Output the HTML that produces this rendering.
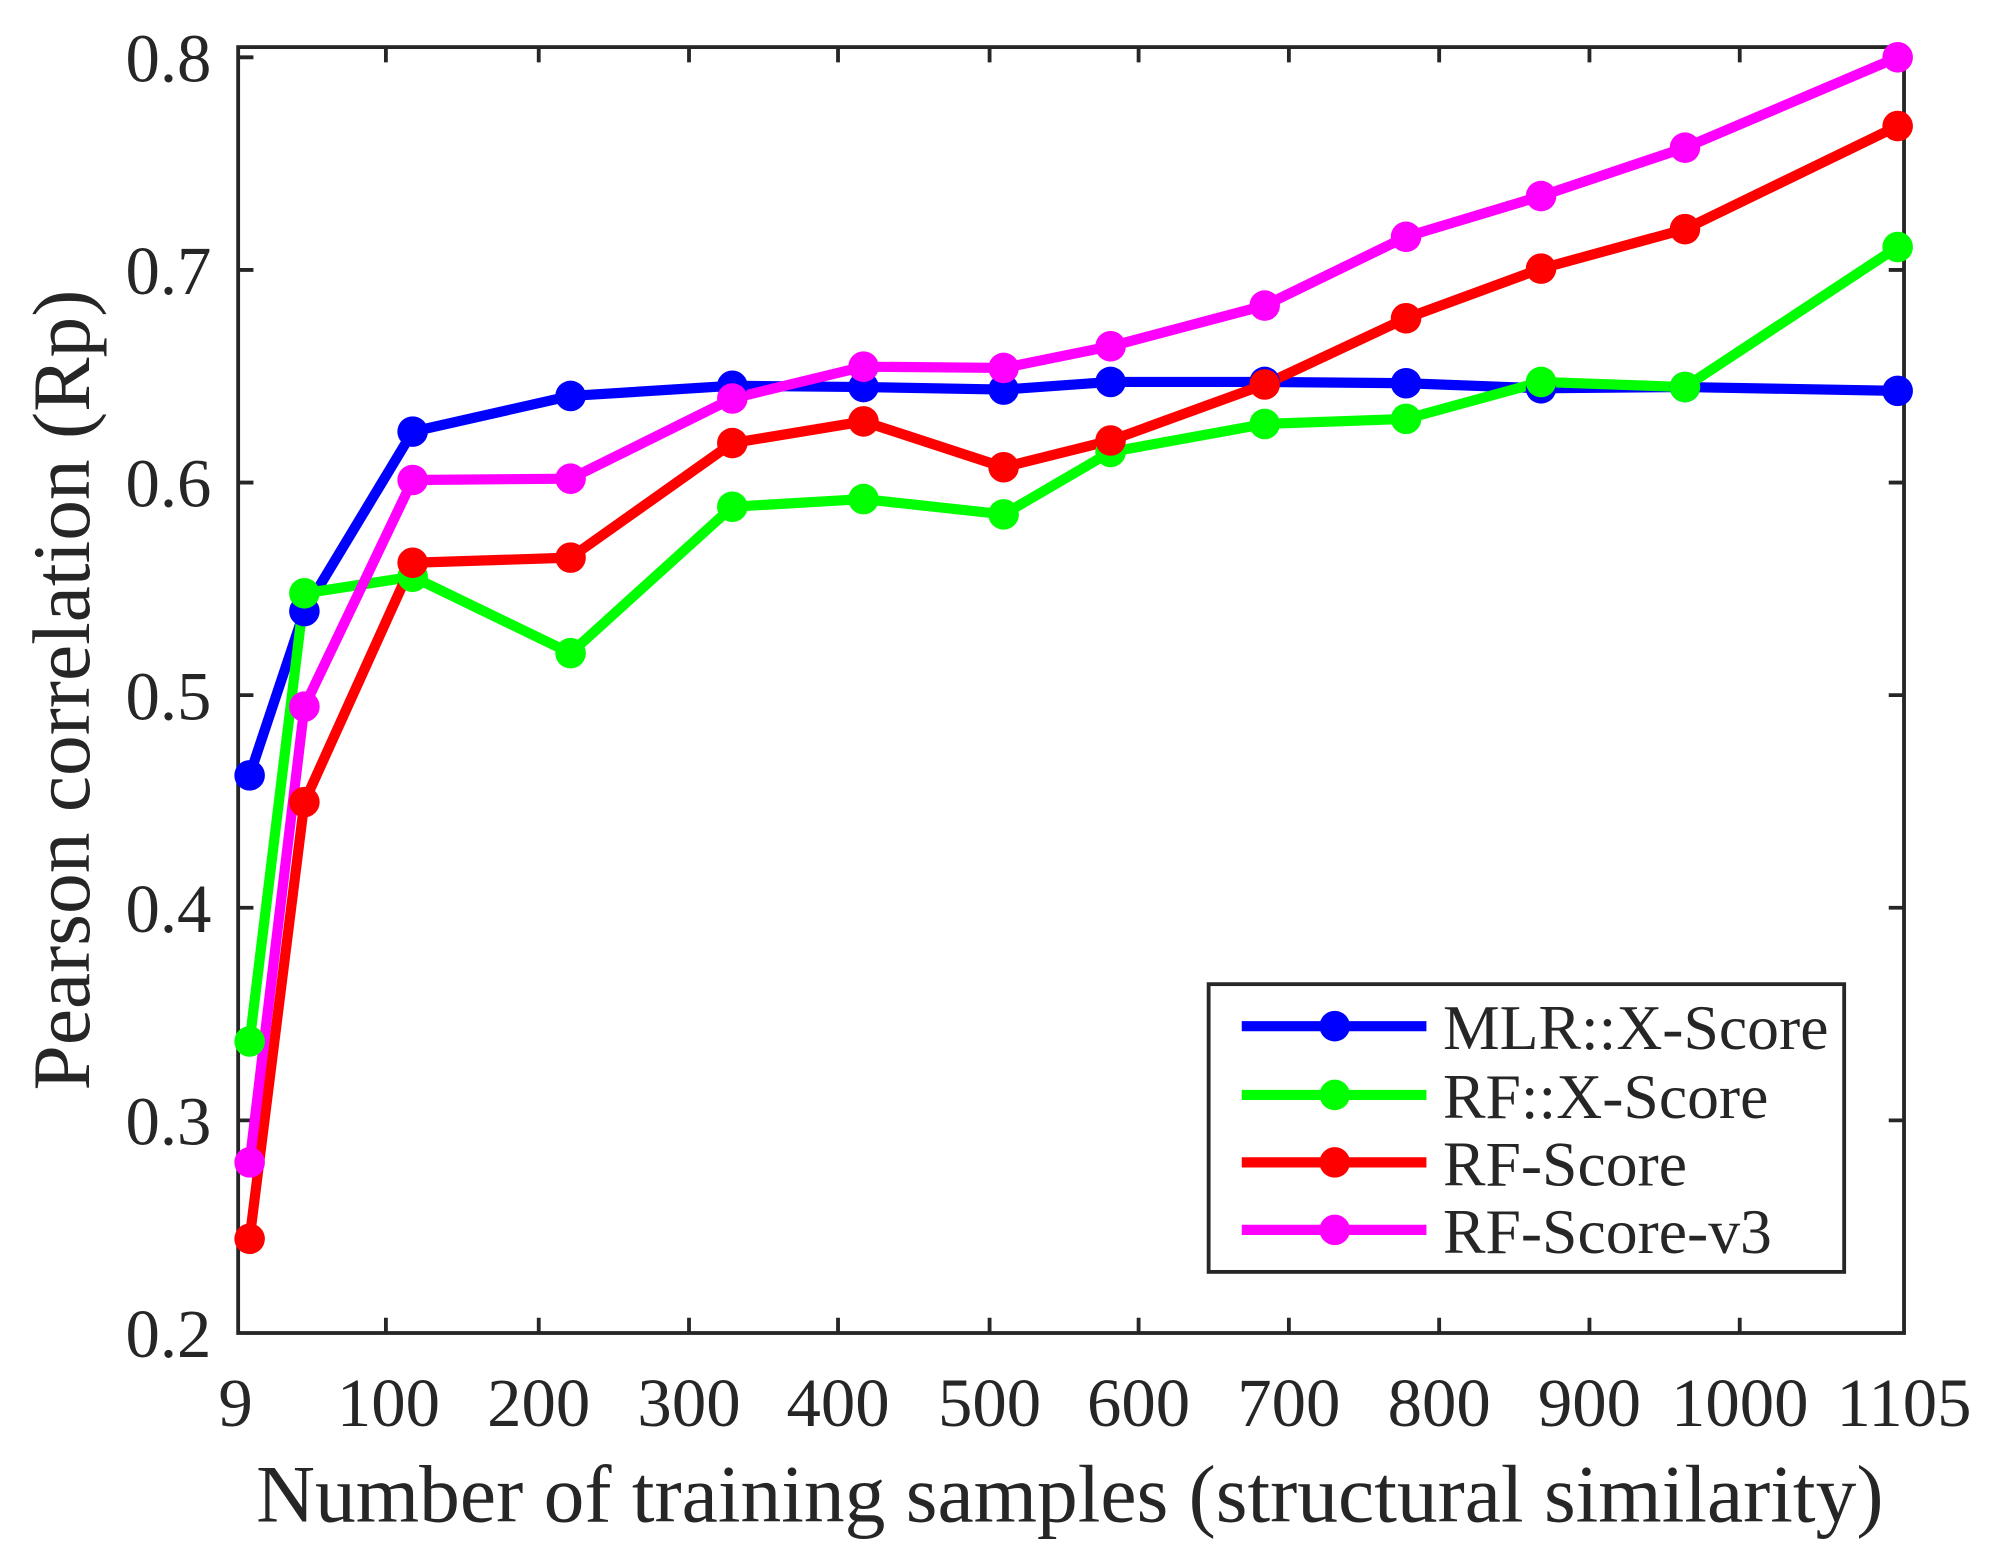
<!DOCTYPE html>
<html><head><meta charset="utf-8"><style>html,body{margin:0;padding:0;background:#fff}svg{display:block}</style></head><body>
<svg width="1997" height="1566" viewBox="0 0 1568 1230" preserveAspectRatio="none" xmlns="http://www.w3.org/2000/svg" font-family="Liberation Serif, serif" fill="#262626">
<rect x="0" y="0" width="1568" height="1230" fill="#fff"/>
<g stroke="#262626" stroke-width="3" fill="none">
<rect x="187" y="37" width="1308" height="1010"/>
<path d="M187 45h12M1495 45h-12M187 212h12M1495 212h-12M187 379h12M1495 379h-12M187 546h12M1495 546h-12M187 713h12M1495 713h-12M187 880h12M1495 880h-12"/>
<path d="M303 1047v-12M303 37v12M423 1047v-12M423 37v12M541 1047v-12M541 37v12M658 1047v-12M658 37v12M777 1047v-12M777 37v12M894 1047v-12M894 37v12M1012 1047v-12M1012 37v12M1130 1047v-12M1130 37v12M1248 1047v-12M1248 37v12M1366 1047v-12M1366 37v12"/>
</g>
<g font-size="54" text-anchor="end">
<text x="166" y="64">0.8</text><text x="166" y="231">0.7</text><text x="166" y="398">0.6</text><text x="166" y="565">0.5</text><text x="166" y="732">0.4</text><text x="166" y="899">0.3</text><text x="166" y="1066">0.2</text>
</g>
<g font-size="54" text-anchor="middle">
<text x="185" y="1120">9</text><text x="305" y="1120">100</text><text x="423" y="1120">200</text><text x="541" y="1120">300</text><text x="658" y="1120">400</text><text x="777" y="1120">500</text><text x="894" y="1120">600</text><text x="1012" y="1120">700</text><text x="1130" y="1120">800</text><text x="1248" y="1120">900</text><text x="1366" y="1120">1000</text><text x="1495" y="1120">1105</text>
<text x="840" y="1195" font-size="64">Number of training samples (structural similarity)</text>
<text transform="translate(70 542) rotate(-90)" font-size="64">Pearson correlation (Rp)</text>
</g>
<g fill="none" stroke-width="8" stroke-linejoin="round">
<polyline stroke="#0000ff" points="196,609 239,480 324,339 448,311 575,303 678,304 788,306 872,300 993,300 1104,301 1210,305 1323,304 1490,307"/>
<polyline stroke="#00ff00" points="196,818 239,466 324,453 448,513 575,398 678,392 788,404 872,355 993,333 1104,329 1210,300 1323,304 1490,194"/>
<polyline stroke="#ff0000" points="196,973 239,630 324,442 448,438 575,348 678,331 788,367 872,346 993,302 1104,250 1210,211 1323,180 1490,99"/>
<polyline stroke="#ff00ff" points="196,913 239,555 324,377 448,376 575,313 678,288 788,289 872,272 993,240 1104,186 1210,154 1323,116 1490,45"/>
</g>
<g fill="#0000ff"><circle cx="196" cy="609" r="12"/><circle cx="239" cy="480" r="12"/><circle cx="324" cy="339" r="12"/><circle cx="448" cy="311" r="12"/><circle cx="575" cy="303" r="12"/><circle cx="678" cy="304" r="12"/><circle cx="788" cy="306" r="12"/><circle cx="872" cy="300" r="12"/><circle cx="993" cy="300" r="12"/><circle cx="1104" cy="301" r="12"/><circle cx="1210" cy="305" r="12"/><circle cx="1323" cy="304" r="12"/><circle cx="1490" cy="307" r="12"/></g>
<g fill="#00ff00"><circle cx="196" cy="818" r="12"/><circle cx="239" cy="466" r="12"/><circle cx="324" cy="453" r="12"/><circle cx="448" cy="513" r="12"/><circle cx="575" cy="398" r="12"/><circle cx="678" cy="392" r="12"/><circle cx="788" cy="404" r="12"/><circle cx="872" cy="355" r="12"/><circle cx="993" cy="333" r="12"/><circle cx="1104" cy="329" r="12"/><circle cx="1210" cy="300" r="12"/><circle cx="1323" cy="304" r="12"/><circle cx="1490" cy="194" r="12"/></g>
<g fill="#ff0000"><circle cx="196" cy="973" r="12"/><circle cx="239" cy="630" r="12"/><circle cx="324" cy="442" r="12"/><circle cx="448" cy="438" r="12"/><circle cx="575" cy="348" r="12"/><circle cx="678" cy="331" r="12"/><circle cx="788" cy="367" r="12"/><circle cx="872" cy="346" r="12"/><circle cx="993" cy="302" r="12"/><circle cx="1104" cy="250" r="12"/><circle cx="1210" cy="211" r="12"/><circle cx="1323" cy="180" r="12"/><circle cx="1490" cy="99" r="12"/></g>
<g fill="#ff00ff"><circle cx="196" cy="913" r="12"/><circle cx="239" cy="555" r="12"/><circle cx="324" cy="377" r="12"/><circle cx="448" cy="376" r="12"/><circle cx="575" cy="313" r="12"/><circle cx="678" cy="288" r="12"/><circle cx="788" cy="289" r="12"/><circle cx="872" cy="272" r="12"/><circle cx="993" cy="240" r="12"/><circle cx="1104" cy="186" r="12"/><circle cx="1210" cy="154" r="12"/><circle cx="1323" cy="116" r="12"/><circle cx="1490" cy="45" r="12"/></g>
<rect x="949" y="773" width="499" height="226" fill="#fff" stroke="#262626" stroke-width="3"/>
<g stroke-width="8">
<line x1="975" y1="806" x2="1120" y2="806" stroke="#0000ff"/><circle cx="1048" cy="806" r="12" fill="#0000ff"/>
<line x1="975" y1="860" x2="1120" y2="860" stroke="#00ff00"/><circle cx="1048" cy="860" r="12" fill="#00ff00"/>
<line x1="975" y1="913" x2="1120" y2="913" stroke="#ff0000"/><circle cx="1048" cy="913" r="12" fill="#ff0000"/>
<line x1="975" y1="966" x2="1120" y2="966" stroke="#ff00ff"/><circle cx="1048" cy="966" r="12" fill="#ff00ff"/>
</g>
<g font-size="50">
<text x="1133" y="824">MLR::X-Score</text><text x="1133" y="878">RF::X-Score</text><text x="1133" y="931">RF-Score</text><text x="1133" y="984">RF-Score-v3</text>
</g>
</svg>
</body></html>
